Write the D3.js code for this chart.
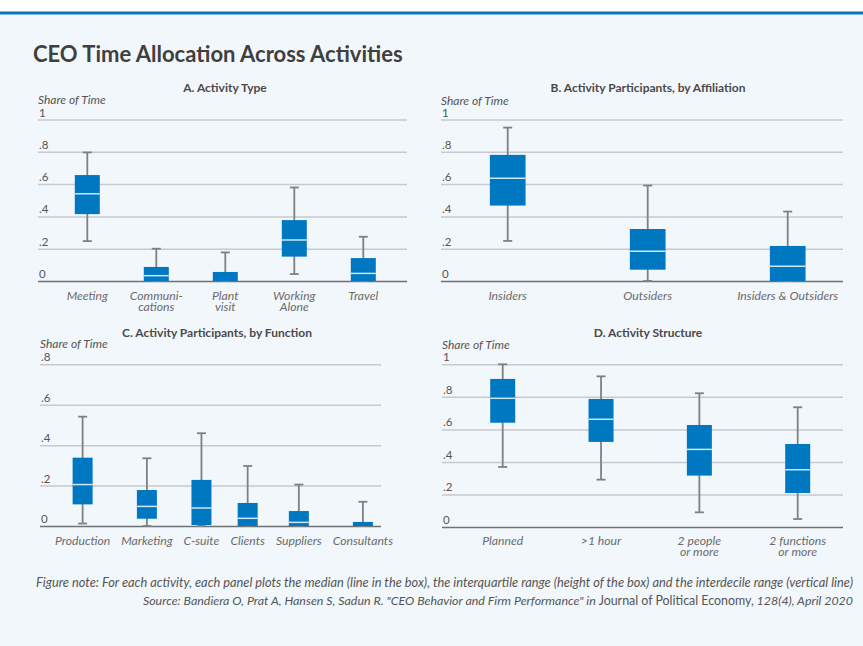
<!DOCTYPE html>
<html>
<head>
<meta charset="utf-8">
<script src="https://cdn.jsdelivr.net/npm/d3@7/dist/d3.min.js"></script>
<style>
  html, body { margin: 0; padding: 0; background: #ffffff; }
  svg { display: block; font-family: Lato, "Open Sans", sans-serif; }
</style>
</head>
<body>
<svg id="chart" width="863" height="646"></svg>
<script>
// ---- Data: each activity's 10th, 25th, 50th, 75th and 90th percentile share of time ----
const catsA = ["Meeting", "Communi-|cations", "Plant|visit", "Working|Alone", "Travel"];
const p10A = [0.247, 0.000, 0.000, 0.043, 0.000];
const q1A  = [0.414, 0.000, 0.000, 0.151, 0.000];
const medA = [0.540, 0.033, 0.000, 0.254, 0.047];
const q3A  = [0.656, 0.087, 0.056, 0.377, 0.142];
const p90A = [0.796, 0.200, 0.177, 0.579, 0.274];

const catsB = ["Insiders", "Outsiders", "Insiders & Outsiders"];
const p10B = [0.248, 0.000, 0.000];
const q1B  = [0.467, 0.070, 0.000];
const medB = [0.636, 0.184, 0.091];
const q3B  = [0.781, 0.322, 0.217];
const p90B = [0.950, 0.591, 0.430];

const catsC = ["Production", "Marketing", "C-suite", "Clients", "Suppliers", "Consultants"];
const p10C = [0.012, 0.000, 0.000, 0.000, 0.000, 0.000];
const q1C  = [0.107, 0.036, 0.005, 0.000, 0.000, 0.000];
const medC = [0.205, 0.097, 0.089, 0.038, 0.018, 0.000];
const q3C  = [0.338, 0.178, 0.228, 0.114, 0.074, 0.020];
const p90C = [0.541, 0.335, 0.459, 0.297, 0.205, 0.120];

const catsD = ["Planned", ">1 hour", "2 people|or more", "2 functions|or more"];
const p10D = [0.369, 0.291, 0.090, 0.049];
const q1D  = [0.641, 0.523, 0.316, 0.209];
const medD = [0.791, 0.662, 0.477, 0.352];
const q3D  = [0.910, 0.787, 0.627, 0.510];
const p90D = [1.000, 0.926, 0.822, 0.736];

const ticksUnit = [0, 0.2, 0.4, 0.6, 0.8, 1];
const ticksC = [0, 0.2, 0.4, 0.6, 0.8];
const tickText = v => v === 0 ? "0" : v === 1 ? "1" : d3.format(".1f")(v).replace(/^0/, "");

const titleText = "CEO Time Allocation Across Activities";
const noteText = "Figure note: For each activity, each panel plots the median (line in the box), the interquartile range (height of the box) and the interdecile range (vertical line)";
const sourceParts = [
  { t: "Source: Bandiera O, Prat A, Hansen S, Sadun R. \"CEO Behavior and Firm Performance\" in ", italic: true },
  { t: "Journal of Political Economy,", italic: false },
  { t: " 128(4), April 2020", italic: true }
];

// ---- Colours ----
const BG = "#f2f7fb", ACCENT = "#0a76c2", BOX = "#0077c1", MEDIAN = "#cfe6f5";
const GRID = "#c6c9cd", BASE = "#6f7275", WHISK = "#7d8184";
const TEXT = "#4a4a4a", LABEL = "#6b6b6b";

const svg = d3.select("#chart");
svg.append("rect").attr("width", 863).attr("height", 646).attr("fill", BG);
svg.append("rect").attr("width", 863).attr("height", 11.5).attr("fill", "#ffffff");
svg.append("rect").attr("y", 11.5).attr("width", 863).attr("height", 3).attr("fill", ACCENT);

svg.append("text").attr("x", 33).attr("y", 62)
  .attr("font-size", 22).attr("font-weight", 700).attr("fill", "#404040")
  .text(titleText);

function panel(cfg) {
  const g = svg.append("g");
  const y = d3.scaleLinear().domain([0, cfg.ymax]).range([cfg.y0, cfg.y1]);

  // gridlines + tick labels sitting just above each line
  const axis = d3.axisRight(y).tickValues(cfg.ticks).tickFormat(tickText)
    .tickSize(cfg.gx1 - cfg.gx0);
  const ag = g.append("g").attr("transform", `translate(${cfg.gx0},0)`).call(axis);
  ag.select(".domain").remove();
  ag.selectAll(".tick line").attr("stroke", d => d === 0 ? BASE : GRID).attr("stroke-width", 1.5);
  ag.selectAll(".tick text").attr("x", 1).attr("dy", -3.5).attr("text-anchor", "start")
    .attr("y", 0).attr("font-size", 11.5).attr("fill", "#555").attr("font-family", "Lato, sans-serif");

  g.append("text").attr("x", cfg.titleX).attr("y", cfg.titleY).attr("text-anchor", "middle")
    .attr("font-size", 12).attr("font-weight", 700).attr("fill", TEXT).text(cfg.title);
  g.append("text").attr("x", cfg.gx0).attr("y", cfg.shareY).attr("font-size", 12)
    .attr("font-style", "italic").attr("fill", "#555").text("Share of Time");

  // category labels (optionally two lines)
  const lab = g.selectAll("text.cat").data(cfg.cats).join("text").attr("class", "cat")
    .attr("text-anchor", "middle").attr("font-size", 12.2).attr("font-style", "italic")
    .attr("fill", LABEL).attr("y", cfg.labelY);
  lab.each(function (c) {
    c.split("|").forEach((line, i) => {
      d3.select(this).append("tspan").attr("x", 0).attr("dy", i === 0 ? 0 : 11.4).text(line);
    });
  });

  let x;
  if (cfg.packLabels) {
    // labels are laid out left to right with an even gap; boxes sit over their labels
    const widths = [];
    lab.each(function () { widths.push(this.getComputedTextLength()); });
    let cursor = cfg.packStart;
    const centers = widths.map(w => { const c = cursor + w / 2; cursor += w + cfg.packGap; return c; });
    x = d3.scaleOrdinal(cfg.cats, centers);
  } else {
    x = d3.scalePoint().domain(cfg.cats).range(cfg.xr);
  }
  lab.selectAll("tspan").attr("x", function () { return x(d3.select(this.parentNode).datum()); });

  const rows = cfg.cats.map((c, i) => ({ c, p10: cfg.p10[i], q1: cfg.q1[i], med: cfg.med[i], q3: cfg.q3[i], p90: cfg.p90[i] }));
  const bw = cfg.boxW, cap = 9;
  const b = g.selectAll("g.bx").data(rows).join("g").attr("class", "bx");
  b.append("line").attr("x1", d => x(d.c)).attr("x2", d => x(d.c))
    .attr("y1", d => y(d.p10)).attr("y2", d => y(d.p90)).attr("stroke", WHISK).attr("stroke-width", 1.8);
  b.append("line").attr("x1", d => x(d.c) - cap / 2).attr("x2", d => x(d.c) + cap / 2)
    .attr("y1", d => y(d.p90)).attr("y2", d => y(d.p90)).attr("stroke", WHISK).attr("stroke-width", 1.8);
  b.append("line").attr("x1", d => x(d.c) - cap / 2).attr("x2", d => x(d.c) + cap / 2)
    .attr("y1", d => y(d.p10)).attr("y2", d => y(d.p10)).attr("stroke", WHISK).attr("stroke-width", 1.8);
  b.append("rect").attr("x", d => x(d.c) - bw / 2).attr("width", bw)
    .attr("y", d => y(d.q3)).attr("height", d => y(d.q1) - y(d.q3)).attr("fill", BOX);
  b.filter(d => d.med > 0).append("line").attr("x1", d => x(d.c) - bw / 2).attr("x2", d => x(d.c) + bw / 2)
    .attr("y1", d => y(d.med)).attr("y2", d => y(d.med)).attr("stroke", MEDIAN).attr("stroke-width", 1.5);
}

panel({ title: "A. Activity Type", titleX: 225, titleY: 92, shareY: 104,
  cats: catsA, p10: p10A, q1: q1A, med: medA, q3: q3A, p90: p90A,
  ymax: 1, ticks: ticksUnit, y0: 281, y1: 119.5, gx0: 38, gx1: 407,
  xr: [87.3, 363.3], boxW: 25, labelY: 300 });

panel({ title: "B. Activity Participants, by Affiliation", titleX: 648, titleY: 92, shareY: 105,
  cats: catsB, p10: p10B, q1: q1B, med: medB, q3: q3B, p90: p90B,
  ymax: 1, ticks: ticksUnit, y0: 281, y1: 119.5, gx0: 441, gx1: 843,
  xr: [507.7, 787.7], boxW: 35.7, labelY: 300 });

panel({ title: "C. Activity Participants, by Function", titleX: 217, titleY: 337, shareY: 348,
  cats: catsC, p10: p10C, q1: q1C, med: medC, q3: q3C, p90: p90C,
  ymax: 0.8, ticks: ticksC, y0: 526, y1: 364.3, gx0: 40, gx1: 381,
  packLabels: true, packStart: 55, packGap: 11, boxW: 20, labelY: 545 });

panel({ title: "D. Activity Structure", titleX: 648, titleY: 337, shareY: 349,
  cats: catsD, p10: p10D, q1: q1D, med: medD, q3: q3D, p90: p90D,
  ymax: 1, ticks: ticksUnit, y0: 527, y1: 364.3, gx0: 442, gx1: 843,
  xr: [502.7, 797.7], boxW: 25, labelY: 545 });

// ---- Footer note and source ----
svg.append("text").attr("x", 853).attr("y", 587).attr("text-anchor", "end")
  .attr("font-size", 12.8).attr("font-style", "italic").attr("fill", "#555").text(noteText);
const src = svg.append("text").attr("x", 853).attr("y", 605).attr("text-anchor", "end")
  .attr("font-size", 12.4).attr("fill", "#555");
sourceParts.forEach(p => src.append("tspan").attr("font-style", p.italic ? "italic" : "normal").text(p.t));
</script>
</body>
</html>
